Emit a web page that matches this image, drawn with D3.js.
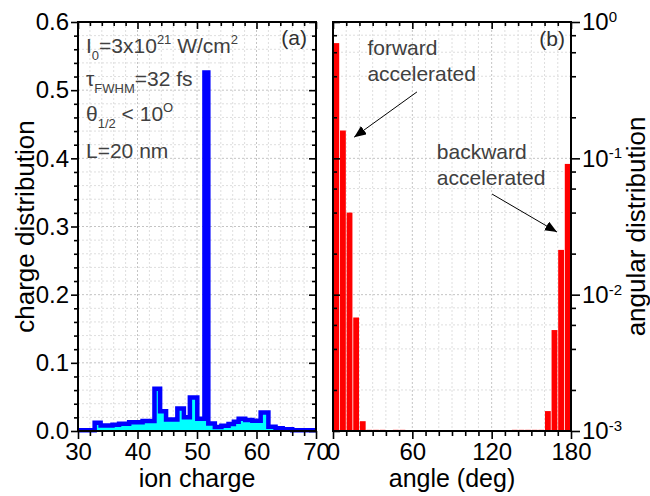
<!DOCTYPE html>
<html>
<head>
<meta charset="utf-8">
<script src="https://cdn.jsdelivr.net/npm/d3@7"></script>
<style>
body { margin: 0; background: #fff; }
text { font-family: Arial, "Liberation Sans", sans-serif; }
</style>
</head>
<body>
<svg id="chart" width="650" height="496"></svg>
<script>
// panel (a): ion charge distribution, step histogram (edges + value of each step)
var chargeEdges = [30, 32.8, 33.8, 35.8, 36.9, 38.6, 40.85, 42.85, 43.8, 44.8, 46.7, 47.8, 48.8, 50.05,
                   51.25, 51.9, 53.0, 54.1, 55.3, 56.2, 57.0, 58.1, 59.3, 60.7, 62.0, 63.2, 64.4, 66.0, 70];
var chargeValues = [0.001, 0.012, 0.008, 0.009, 0.0105, 0.013, 0.0147, 0.062, 0.029, 0.017, 0.033, 0.02,
                    0.049, 0.018, 0.526, 0.011, 0.0058, 0.0078, 0.0103, 0.0137, 0.018, 0.016, 0.015, 0.027,
                    0.0063, 0.004, 0.0025, 0.0012];
var chargeTicks = [30, 40, 50, 60, 70];
var chargeDistTicks = [0, 0.1, 0.2, 0.3, 0.4, 0.5, 0.6];

// panel (b): angular distribution, 5 degree bins (bin start angle)
var angleBinWidth = 5;
var angleStart = [0, 5, 10, 15, 20, 25, 30, 35, 45, 50, 135, 140, 145, 150, 155, 160, 165, 170, 175];
var angleValues = [0.70, 0.16, 0.040, 0.0068, 0.00118, 0.00102, 0.00102, 0.00102, 0.00102, 0.00102,
                   0.00102, 0.00102, 0.00102, 0.00102, 0.00102, 0.0014, 0.0055, 0.0213, 0.091];
var angleTicks = [0, 60, 120, 180];
var angDistTicks = [1e-3, 1e-2, 1e-1, 1];
var angDistExp = ["-3", "-2", "-1", "0"];

var svg = d3.select("#chart");
var panelTop = 22, panelBottom = 431;

var xa = d3.scaleLinear().domain([30, 70]).range([78, 316]);
var ya = d3.scaleLinear().domain([0, 0.6]).range([panelBottom, panelTop]);
var xb = d3.scaleLinear().domain([0, 180]).range([333, 571]);
var yb = d3.scaleLog().domain([1e-3, 1]).range([panelBottom, panelTop]);

var minorCharge = d3.range(30, 71, 2).filter(d => d % 10 != 0);
var minorChargeDist = d3.range(0, 61, 2).map(d => d / 100).filter(d => Math.round(d * 100) % 10 != 0);
var minorAngle = d3.range(0, 181, 10).filter(d => d % 60 != 0);
var minorLog = [];
[1e-3, 1e-2, 1e-1].forEach(function (p) {
    [2, 4, 6, 8].forEach(function (m) { minorLog.push(m * p); });
});

// grids
function grid(x, y, xv, yv, col) {
    var g = svg.append("g").attr("stroke", col).attr("stroke-width", 1).attr("stroke-dasharray", "2,2");
    xv.forEach(function (v) {
        g.append("line").attr("x1", x(v)).attr("x2", x(v)).attr("y1", panelTop).attr("y2", panelBottom);
    });
    yv.forEach(function (v) {
        g.append("line").attr("x1", x.range()[0]).attr("x2", x.range()[1]).attr("y1", y(v)).attr("y2", y(v));
    });
}
grid(xa, ya, minorCharge, minorChargeDist, "#dedede");
grid(xa, ya, chargeTicks.slice(1, -1), chargeDistTicks.slice(1, -1), "#c4c4c4");
grid(xb, yb, minorAngle, minorLog, "#dedede");
grid(xb, yb, angleTicks.slice(1, -1), angDistTicks.slice(1, -1), "#c4c4c4");

// panel (a) histogram
var stepPts = chargeValues.map(function (v, i) { return [chargeEdges[i], v]; });
stepPts.push([chargeEdges[chargeEdges.length - 1], chargeValues[chargeValues.length - 1]]);

svg.append("path")
    .datum(stepPts)
    .attr("fill", "#00ffff")
    .attr("d", d3.area().curve(d3.curveStepAfter)
        .x(d => xa(d[0])).y0(ya(0)).y1(d => ya(d[1])));

svg.append("path")
    .datum(stepPts)
    .attr("fill", "none")
    .attr("stroke", "#0000ff")
    .attr("stroke-width", 4.5)
    .attr("d", d3.line().curve(d3.curveStepAfter)
        .x(d => xa(d[0])).y(d => ya(d[1])));

// panel (b) bars
svg.append("g").selectAll("rect")
    .data(angleStart)
    .enter().append("rect")
    .attr("x", d => xb(d) + 0.4)
    .attr("width", d => xb(d + angleBinWidth) - xb(d) - 0.8)
    .attr("y", (d, i) => yb(angleValues[i]))
    .attr("height", (d, i) => yb(1e-3) - yb(angleValues[i]))
    .attr("fill", "#ff0000");

// axes
function styleAxis(g) {
    g.select(".domain").remove();
    g.selectAll("line").attr("stroke", "#000").attr("stroke-width", 1.6);
    g.selectAll("text").attr("fill", "#000").style("font-size", "24px")
        .style("font-family", "Arial, 'Liberation Sans', sans-serif");
}
function addAxis(axis, tx, ty) {
    return svg.append("g").attr("transform", "translate(" + tx + "," + ty + ")").call(axis).call(styleAxis);
}

// panel a
addAxis(d3.axisBottom(xa).tickValues(chargeTicks).tickSize(8).tickPadding(4).tickFormat(d3.format("d")), 0, panelBottom);
addAxis(d3.axisBottom(xa).tickValues(minorCharge).tickSize(5).tickFormat(""), 0, panelBottom);
addAxis(d3.axisTop(xa).tickValues(chargeTicks).tickSize(-7).tickFormat(""), 0, panelTop);
addAxis(d3.axisTop(xa).tickValues(minorCharge).tickSize(-4).tickFormat(""), 0, panelTop);
addAxis(d3.axisLeft(ya).tickValues(chargeDistTicks).tickSize(7).tickPadding(2).tickFormat(d3.format(".1f")), 78, 0);
addAxis(d3.axisLeft(ya).tickValues(minorChargeDist).tickSize(4).tickFormat(""), 78, 0);
addAxis(d3.axisRight(ya).tickValues(chargeDistTicks).tickSize(-7).tickFormat(""), 316, 0);
addAxis(d3.axisRight(ya).tickValues(minorChargeDist).tickSize(-4).tickFormat(""), 316, 0);

// panel b
addAxis(d3.axisBottom(xb).tickValues(angleTicks).tickSize(8).tickPadding(4).tickFormat(d3.format("d")), 0, panelBottom);
addAxis(d3.axisBottom(xb).tickValues(minorAngle).tickSize(5).tickFormat(""), 0, panelBottom);
addAxis(d3.axisTop(xb).tickValues(angleTicks).tickSize(-7).tickFormat(""), 0, panelTop);
addAxis(d3.axisTop(xb).tickValues(minorAngle).tickSize(-4).tickFormat(""), 0, panelTop);
addAxis(d3.axisLeft(yb).tickValues(angDistTicks).tickSize(-7).tickFormat(""), 333, 0);
addAxis(d3.axisLeft(yb).tickValues(minorLog).tickSize(-4).tickFormat(""), 333, 0);
addAxis(d3.axisRight(yb).tickValues(minorLog).tickSize(5).tickFormat(""), 571, 0);
var yRight = addAxis(d3.axisRight(yb).tickValues(angDistTicks).tickSize(9).tickPadding(2).tickFormat(""), 571, 0);
yRight.selectAll("text").each(function (d, i) {
    var t = d3.select(this);
    t.append("tspan").text("10");
    t.append("tspan").attr("dy", "-0.55em").style("font-size", "15px").text(angDistExp[i]);
});

// frames
[[xa, ya], [xb, yb]].forEach(function (p) {
    svg.append("rect")
        .attr("x", p[0].range()[0]).attr("y", panelTop)
        .attr("width", p[0].range()[1] - p[0].range()[0])
        .attr("height", panelBottom - panelTop)
        .attr("fill", "none").attr("stroke", "#000").attr("stroke-width", 2);
});

// axis titles
svg.append("text").attr("x", d3.mean(xa.range())).attr("y", 487)
    .attr("text-anchor", "middle").style("font-size", "25px").text("ion charge");
svg.append("text").attr("x", d3.mean(xb.range())).attr("y", 487)
    .attr("text-anchor", "middle").style("font-size", "25px").text("angle (deg)");
svg.append("text").attr("transform", "translate(34," + d3.mean(ya.range()) + ") rotate(-90)")
    .attr("text-anchor", "middle").style("font-size", "26px").text("charge distribution");
svg.append("text").attr("transform", "translate(645," + d3.mean(yb.range()) + ") rotate(-90)")
    .attr("text-anchor", "middle").style("font-size", "26px").text("angular distribution");

// panel labels
svg.append("text").attr("x", xa.range()[1] - 9).attr("y", 45).attr("text-anchor", "end")
    .attr("fill", "#303030").style("font-size", "21px").text("(a)");
svg.append("text").attr("x", xb.range()[1] - 6).attr("y", 46).attr("text-anchor", "end")
    .attr("fill", "#303030").style("font-size", "21px").text("(b)");

// parameters text, panel a
var gray = "#404040";
var par = svg.append("g").attr("fill", gray).style("font-size", "21px");
var t1 = par.append("text").attr("x", 86).attr("y", 53);
t1.append("tspan").text("I");
t1.append("tspan").attr("dy", 7).style("font-size", "13px").text("0");
t1.append("tspan").attr("dy", -7).text("=3x10");
t1.append("tspan").attr("dy", -9).style("font-size", "13px").text("21");
t1.append("tspan").attr("dy", 9).text(" W/cm");
t1.append("tspan").attr("dy", -9).style("font-size", "13px").text("2");

var t2 = par.append("text").attr("x", 86).attr("y", 86);
t2.append("tspan").text("τ");
t2.append("tspan").attr("dy", 7).style("font-size", "13px").text("FWHM");
t2.append("tspan").attr("dy", -7).text("=32 fs");

var t3 = par.append("text").attr("x", 86).attr("y", 121);
t3.append("tspan").text("θ");
t3.append("tspan").attr("dy", 7).style("font-size", "13px").text("1/2");
t3.append("tspan").attr("dy", -7).text(" < 10");
t3.append("tspan").attr("dy", -9).style("font-size", "13px").text("O");

par.append("text").attr("x", 86).attr("y", 158).text("L=20 nm");

// annotations, panel b
var ann = svg.append("g").attr("fill", gray).style("font-size", "21px");
ann.append("text").attr("x", xb(26)).attr("y", 55).text("forward");
ann.append("text").attr("x", xb(26)).attr("y", 81).text("accelerated");
ann.append("text").attr("x", xb(78.5)).attr("y", 159).text("backward");
ann.append("text").attr("x", xb(78.5)).attr("y", 185).text("accelerated");

svg.append("defs").append("marker")
    .attr("id", "arr").attr("viewBox", "0 0 12 10").attr("refX", 12).attr("refY", 5)
    .attr("markerWidth", 12).attr("markerHeight", 10).attr("markerUnits", "userSpaceOnUse")
    .attr("orient", "auto")
    .append("path").attr("d", "M0,0 L12,5 L0,10 Z").attr("fill", "#000");

var arrows = [
    [[63.5, 0.307], [16.0, 0.143]],
    [[120.3, 0.0547], [169.4, 0.0288]]
];
arrows.forEach(function (a) {
    svg.append("line")
        .attr("x1", xb(a[0][0])).attr("y1", yb(a[0][1]))
        .attr("x2", xb(a[1][0])).attr("y2", yb(a[1][1]))
        .attr("stroke", "#000").attr("stroke-width", 1)
        .attr("marker-end", "url(#arr)");
});
</script>
</body>
</html>
